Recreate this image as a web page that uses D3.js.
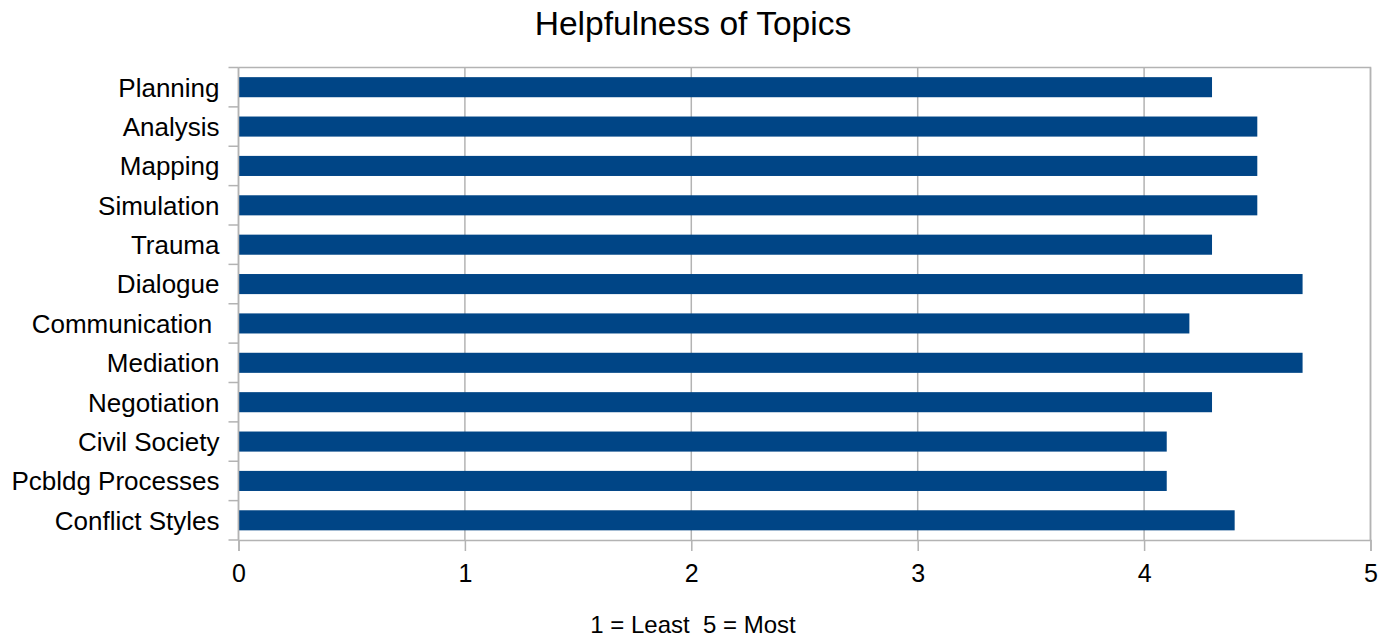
<!DOCTYPE html>
<html>
<head>
<meta charset="utf-8">
<script src="https://cdn.jsdelivr.net/npm/d3@7"></script>
<style>
  html, body { margin: 0; padding: 0; background: #fff; }
  svg { display: block; font-family: "Liberation Sans", Arial, sans-serif; }
</style>
</head>
<body>
<svg id="chart" width="1388" height="637"></svg>
<script>
// Topics, top to bottom
const topics = ["Planning", "Analysis", "Mapping", "Simulation", "Trauma", "Dialogue",
  "Communication ", "Mediation", "Negotiation", "Civil Society", "Pcbldg Processes", "Conflict Styles"];
// Mean helpfulness rating (1 = least, 5 = most)
const ratings = [4.3, 4.5, 4.5, 4.5, 4.3, 4.7, 4.2, 4.7, 4.3, 4.1, 4.1, 4.4];
const xTicks = [0, 1, 2, 3, 4, 5];

const title = "Helpfulness of Topics";
const xTitle = "1 = Least  5 = Most";

const svg = d3.select("#chart");
const plotLeft = 238.5, plotRight = 1370.5, plotTop = 67.5, plotBottom = 540;
const gridColor = "#b3b3b3";
const barColor = "#004586";

const x = d3.scaleLinear().domain([0, 5]).range([plotLeft, plotRight]);
const y = d3.scaleBand().domain(topics).range([plotTop, plotBottom]).paddingInner(0.49).paddingOuter(0.245);

// vertical grid lines
svg.append("g").selectAll("line").data(xTicks).join("line")
  .attr("x1", d => x(d)).attr("x2", d => x(d))
  .attr("y1", plotTop).attr("y2", plotBottom)
  .attr("stroke", gridColor).attr("stroke-width", 1.5);

// plot frame (top + right)
svg.append("path")
  .attr("d", `M${plotLeft},${plotTop}H${plotRight}V${plotBottom}`)
  .attr("fill", "none").attr("stroke", gridColor).attr("stroke-width", 1.5);

// bars
svg.append("g").selectAll("rect").data(topics).join("rect")
  .attr("x", x(0))
  .attr("y", d => y(d))
  .attr("width", (d, i) => x(ratings[i]) - x(0))
  .attr("height", y.bandwidth())
  .attr("fill", barColor);

// x axis
const xAxis = svg.append("g")
  .attr("transform", `translate(0,${plotBottom})`)
  .call(d3.axisBottom(x).tickValues(xTicks).tickFormat(d3.format("d")).tickSize(11).tickPadding(13));
xAxis.select(".domain").attr("stroke", gridColor).attr("stroke-width", 1.5);
xAxis.selectAll(".tick line").attr("stroke", gridColor).attr("stroke-width", 1.5);
xAxis.selectAll(".tick text").attr("font-size", 25).attr("fill", "#000")
  .attr("font-family", "'Liberation Sans', Arial, sans-serif");

// y axis: line plus ticks at band boundaries
const boundaries = d3.range(topics.length + 1).map(i => plotTop + i * (plotBottom - plotTop) / topics.length);
const yAxis = svg.append("g");
yAxis.append("line")
  .attr("x1", plotLeft).attr("x2", plotLeft).attr("y1", plotTop).attr("y2", plotBottom)
  .attr("stroke", gridColor).attr("stroke-width", 1.5);
yAxis.selectAll("line.tk").data(boundaries).join("line").attr("class", "tk")
  .attr("x1", plotLeft - 10).attr("x2", plotLeft)
  .attr("y1", d => d).attr("y2", d => d)
  .attr("stroke", gridColor).attr("stroke-width", 1.5);
yAxis.selectAll("text").data(topics).join("text")
  .attr("x", 219.5)
  .attr("y", d => y(d) + y.bandwidth() / 2)
  .attr("dy", "0.36em")
  .attr("text-anchor", "end")
  .attr("font-size", 26)
  .attr("fill", "#000")
  .style("white-space", "pre")
  .text(d => d);

// title
svg.append("text")
  .attr("x", 693).attr("y", 35)
  .attr("text-anchor", "middle")
  .attr("font-size", 33.6)
  .attr("fill", "#000")
  .text(title);

// x-axis caption
svg.append("text")
  .attr("x", 693).attr("y", 633)
  .attr("text-anchor", "middle")
  .attr("font-size", 24)
  .attr("fill", "#000")
  .style("white-space", "pre")
  .text(xTitle);
</script>
</body>
</html>
